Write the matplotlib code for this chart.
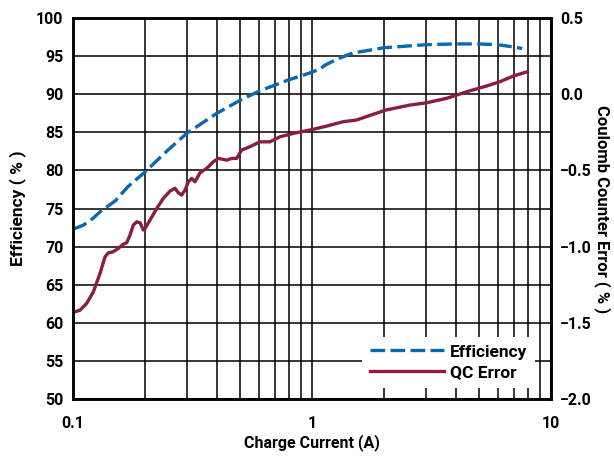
import matplotlib
matplotlib.use('Agg')
import matplotlib.pyplot as plt
from matplotlib.ticker import LogLocator, NullFormatter, FixedLocator

plt.rcParams['font.family'] = ['Roboto', 'DejaVu Sans']
plt.rcParams['font.weight'] = 'bold'

# Efficiency vs charge current
eff_current = [0.100, 0.110, 0.121, 0.130, 0.150, 0.170, 0.200, 0.250, 0.300,
               0.400, 0.500, 0.600, 0.700, 0.800, 0.900, 1.000, 1.080, 1.133,
               1.272, 1.480, 2.000, 3.000, 4.000, 5.000, 6.000, 7.000, 7.600]
efficiency = [72.3, 72.8, 73.7, 74.6, 76.0, 77.9, 79.8, 82.7, 84.9,
              87.5, 89.2, 90.4, 91.2, 91.9, 92.4, 92.9, 93.3, 93.8,
              94.6, 95.4, 96.1, 96.5, 96.6, 96.6, 96.5, 96.2, 96.0]

# Coulomb counter error vs charge current
qc_current = [0.100, 0.1019, 0.107, 0.114, 0.1216, 0.1297, 0.1361, 0.1405, 0.1474,
              0.1547, 0.1623, 0.1677, 0.1731, 0.1788, 0.1847, 0.1907, 0.1969,
              0.2002, 0.2100, 0.2240, 0.2387, 0.2546, 0.2672, 0.2758, 0.2850,
              0.2942, 0.3038, 0.3139, 0.3240, 0.3400, 0.3626, 0.3865, 0.4055,
              0.4397, 0.4613, 0.4841, 0.5080, 0.5503, 0.6058, 0.6673, 0.7346,
              0.8352, 0.981, 1.152, 1.352, 1.538, 2.034, 2.570, 3.020, 3.661,
              4.440, 5.383, 6.118, 6.955, 7.990]
qc_error = [-1.425, -1.427, -1.416, -1.372, -1.296, -1.175, -1.066, -1.040, -1.033,
            -1.011, -0.983, -0.974, -0.924, -0.858, -0.837, -0.843, -0.891,
            -0.880, -0.825, -0.749, -0.683, -0.635, -0.617, -0.646, -0.661,
            -0.629, -0.574, -0.552, -0.574, -0.515, -0.486, -0.443, -0.421,
            -0.432, -0.421, -0.421, -0.366, -0.344, -0.312, -0.312, -0.279,
            -0.257, -0.235, -0.209, -0.180, -0.169, -0.104, -0.071, -0.056, -0.027,
            0.016, 0.054, 0.082, 0.119, 0.148]

left_ticks = [50, 55, 60, 65, 70, 75, 80, 85, 90, 95, 100]
right_ticks = [-2.0, -1.5, -1.0, -0.5, 0.0, 0.5]
right_labels = ['\u22122.0', '\u22121.5', '\u22121.0', '\u22120.5', '0.0', '0.5']

blue = '#0868B0'
maroon = '#8A1C45'

fig = plt.figure(figsize=(6.14, 4.62), dpi=100)
ax = fig.add_axes([0.119, 0.136, 0.778, 0.825])
ax2 = ax.twinx()

l1, = ax.plot(eff_current, efficiency, color=blue, lw=2.4,
              linestyle=(0, (4.4, 1.6)), dash_capstyle='butt', label='Efficiency')
l2, = ax2.plot(qc_current, qc_error, color=maroon, lw=2.4, label='QC Error')

ax.set_xscale('log')
ax.set_xlim(0.1, 10)
ax.set_ylim(50, 100)
ax2.set_ylim(-2.0, 0.5)

ax.xaxis.set_major_locator(FixedLocator([0.1, 1, 10]))
ax.set_xticklabels(['0.1', '1', '10'])
ax.xaxis.set_minor_locator(LogLocator(base=10, subs=range(2, 10)))
ax.xaxis.set_minor_formatter(NullFormatter())
ax.set_yticks(left_ticks)
ax2.set_yticks(right_ticks)
ax2.set_yticklabels(right_labels)

ax.grid(True, which='both', axis='x', color='black', lw=1.1)
ax.grid(True, which='major', axis='y', color='black', lw=1.1)

for a in (ax, ax2):
    a.tick_params(which='both', length=0, labelsize=11.5)
    for s in a.spines.values():
        s.set_linewidth(1.8)
        s.set_color('black')
ax.tick_params(axis='x', pad=12)
ax.tick_params(axis='y', pad=7)
ax2.tick_params(axis='y', pad=6.5)

ax.set_xlabel('Charge Current (A)', fontsize=11.5, fontweight='bold', labelpad=2)
ax.set_ylabel('Efficiency ( % )', fontsize=12.5, fontweight='bold', labelpad=7)
ax2.set_ylabel('Coulomb Counter Error ( % )', fontsize=12, fontweight='bold',
               rotation=270, labelpad=14)

leg = ax2.legend(handles=[l1, l2], loc='lower right', bbox_to_anchor=(0.968, 0.03),
                 fontsize=12.5, frameon=True, fancybox=False, handlelength=4.3,
                 handletextpad=0.35, borderpad=0.45, labelspacing=0.3,
                 borderaxespad=0)
leg.get_frame().set_edgecolor('none')
leg.get_frame().set_facecolor('white')
leg.get_frame().set_alpha(1)

fig.savefig('out.png', dpi=100)
